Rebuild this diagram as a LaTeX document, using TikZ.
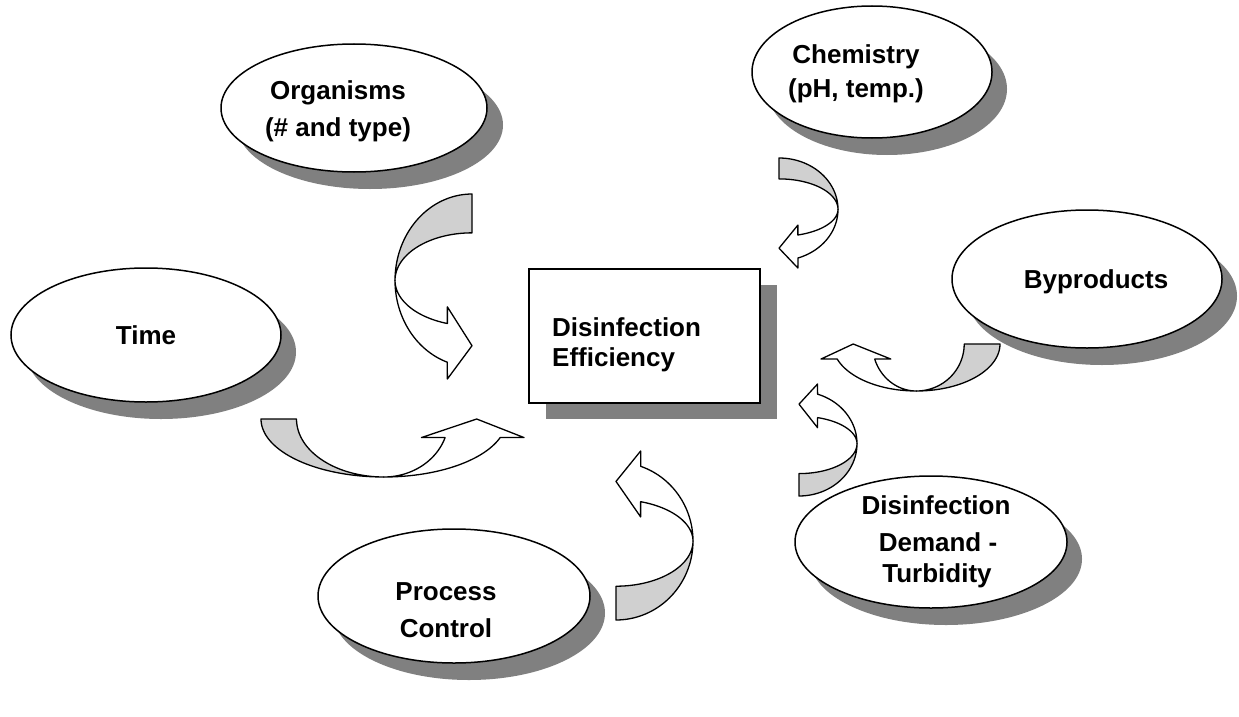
\documentclass[tikz,border=0pt]{standalone}
\usepackage{fontspec}
\setmainfont{Liberation Sans}
\usetikzlibrary{shapes.geometric}
\definecolor{shadowgray}{RGB}{128,128,128}
\definecolor{bandgray}{RGB}{208,208,208}
\tikzset{
  bubble/.style={ellipse, draw=black, fill=white, line width=1.5pt, inner sep=0pt},
  bubbleshadow/.style={ellipse, fill=shadowgray, draw=none, inner sep=0pt},
  boxnode/.style={rectangle, draw=black, fill=white, line width=1.5pt, inner sep=0pt},
  boxshadow/.style={rectangle, fill=shadowgray, draw=none, inner sep=0pt},
  txt/.style={font=\fontsize{26}{32}\selectfont\bfseries, inner sep=0pt, anchor=center},
  ltxt/.style={font=\fontsize{26}{32}\selectfont\bfseries, inner sep=0pt, anchor=west},
  bandback/.style={fill=bandgray, draw=black, line width=1.3pt, line join=round},
  bandfront/.style={fill=white, draw=black, line width=1.3pt, line join=round},
}
% curved arrow in unit coordinates (u along short side, v along long side)
% #1 = depth of the inner edge of the back band
\newcommand\arrowbody[1]{%
  \filldraw[bandback]
    plot[domain=-90:0, samples=40, variable=\t] ({cos(\t)}, {0.467+0.467*sin(\t)})
    -- plot[domain=0:-90, samples=40, variable=\t] ({cos(\t)}, {0.467+(0.467-#1)*sin(\t)})
    -- cycle;
  \filldraw[bandfront]
    plot[domain=0:71.3, samples=40, variable=\t] ({cos(\t)}, {0.467+0.467*sin(\t)})
    -- (0.32,1) -- (0,0.82) -- (0.32,0.61) -- (0.32,0.70)
    -- plot[domain=71.3:0, samples=40, variable=\t] ({cos(\t)}, {0.467+0.246*sin(\t)})
    -- cycle;
}
\begin{document}
\begin{tikzpicture}[x=1pt, y=-1pt]
\useasboundingbox[fill=white] (0,0) rectangle (1239,717);

% shadows
\node[bubbleshadow, minimum width=266pt, minimum height=128pt] (orgS) at (370,125) {};
\node[bubbleshadow, minimum width=240pt, minimum height=132pt] (chemS) at (887,89) {};
\node[bubbleshadow, minimum width=270pt, minimum height=134pt] (timeS) at (161,352) {};
\node[bubbleshadow, minimum width=270pt, minimum height=138pt] (byS) at (1102,296) {};
\node[bubbleshadow, minimum width=272pt, minimum height=132pt] (demS) at (946,559) {};
\node[bubbleshadow, minimum width=272pt, minimum height=134pt] (procS) at (469,613) {};
\node[boxshadow, minimum width=231pt, minimum height=134pt] (effS) at (661.5,352) {};

% bubbles
\node[bubble, minimum width=266pt, minimum height=128pt] (org) at (354,108) {};
\node[bubble, minimum width=240pt, minimum height=132pt] (chem) at (872,72) {};
\node[bubble, minimum width=270pt, minimum height=134pt] (time) at (146,335) {};
\node[bubble, minimum width=270pt, minimum height=138pt] (by) at (1087,279) {};
\node[bubble, minimum width=272pt, minimum height=132pt] (dem) at (931,542) {};
\node[bubble, minimum width=272pt, minimum height=134pt] (proc) at (454,596) {};
\node[boxnode, minimum width=231pt, minimum height=134pt] (eff) at (644.5,336) {};

% texts
\node[txt] (orgT1) at (338,93) {Organisms};
\node[txt] (orgT2) at (338,130) {(\# and type)};
\node[txt] (chemT1) at (856,57) {Chemistry};
\node[txt] (chemT2) at (856,91) {(pH, temp.)};
\node[txt] (timeT) at (146,335) {Time};
\node[txt] (byT) at (1096,282) {Byproducts};
\node[txt] (demT1) at (936,505) {Disinfection};
\node[txt] (demT2) at (938,542) {Demand -};
\node[txt] (demT3) at (937,576) {Turbidity};
\node[txt] (procT1) at (446,592) {Process};
\node[txt] (procT2) at (446,628) {Control};
\node[ltxt] (effT1) at (552,327) {Disinfection};
\node[ltxt] (effT2) at (552,360) {Efficiency};

% curved arrows
\begin{scope}[shift={(779pt,-158pt)}, x={(59pt,0pt)}, y={(0pt,-110pt)}]
  \arrowbody{0.19}
\end{scope}
\begin{scope}[shift={(799pt,-496pt)}, x={(58pt,0pt)}, y={(0pt,112pt)}]
  \arrowbody{0.20}
\end{scope}
\begin{scope}[shift={(616pt,-620pt)}, x={(77pt,0pt)}, y={(0pt,169pt)}]
  \arrowbody{0.20}
\end{scope}
\begin{scope}[shift={(472pt,-194pt)}, x={(-77pt,0pt)}, y={(0pt,-185pt)}]
  \arrowbody{0.21}
\end{scope}
\begin{scope}[shift={(261pt,-419pt)}, x={(0pt,-58pt)}, y={(263pt,0pt)}]
  \arrowbody{0.135}
\end{scope}
\begin{scope}[shift={(1000pt,-344pt)}, x={(0pt,-47pt)}, y={(-179pt,0pt)}]
  \arrowbody{0.20}
\end{scope}
\end{tikzpicture}
\end{document}
